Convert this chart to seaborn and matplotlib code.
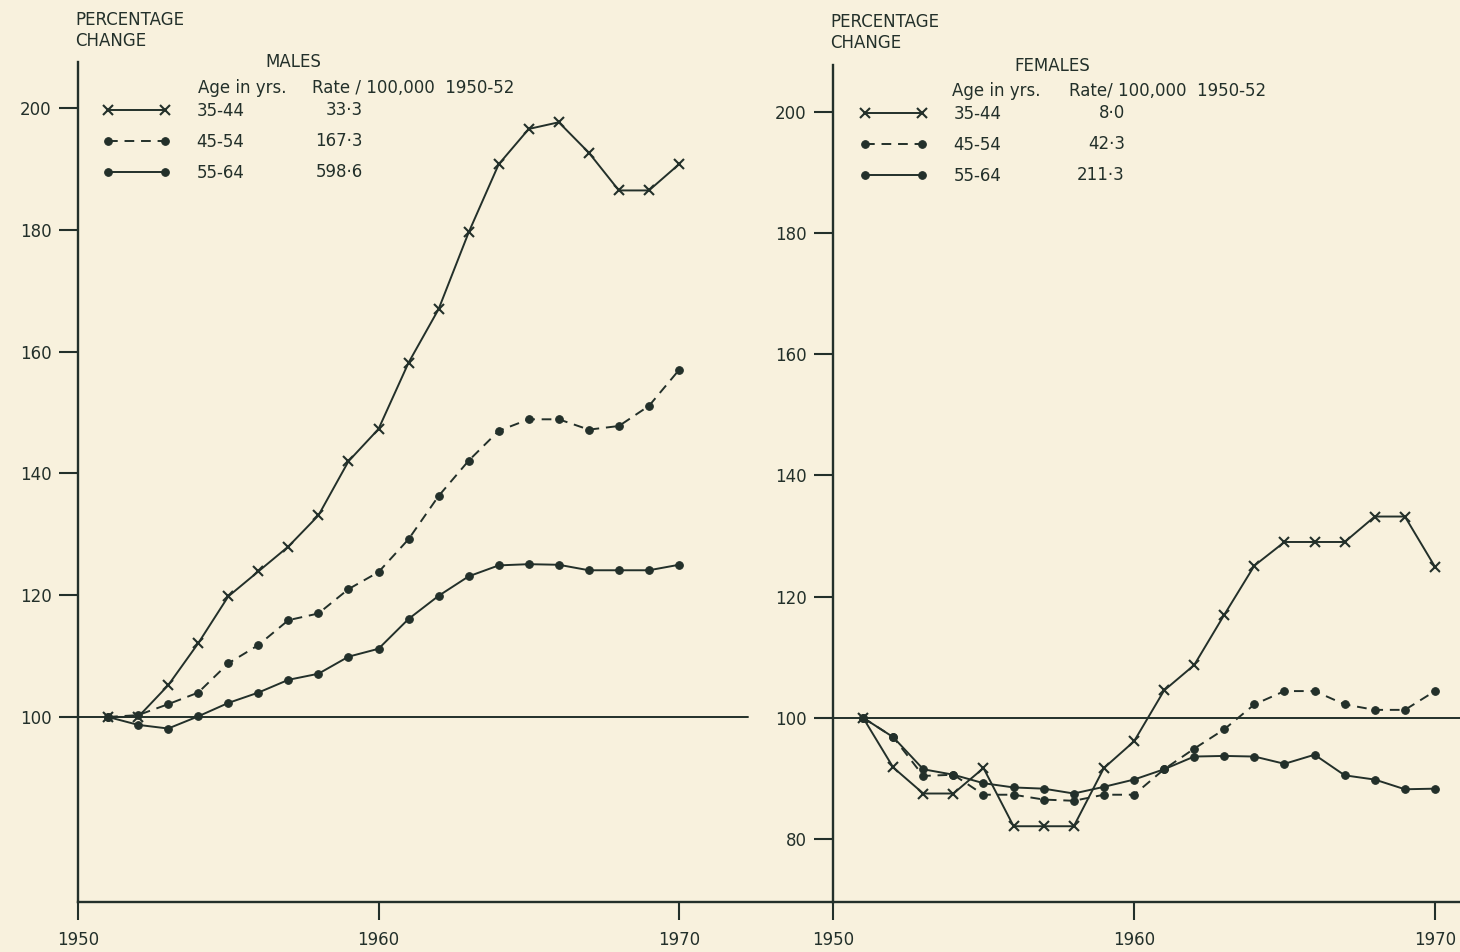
# import the libraries
import pandas as pd
import seaborn as sns
import matplotlib.pyplot as plt

# the data (percentage of 1951 level)
years = list(range(1951, 1971))
age_groups = ["35-44", "45-54", "55-64"]

male_35_44 = [100, 100, 105.2, 112.1, 119.8, 123.9, 128.0, 133.1, 142.0, 147.3,
              158.2, 167.0, 179.6, 190.8, 196.6, 197.7, 192.7, 186.5, 186.5, 190.8]
male_45_54 = [100, 100.3, 102.1, 104.0, 108.8, 111.8, 115.9, 117.0, 121.0, 123.8,
              129.2, 136.3, 142.1, 147.0, 148.9, 148.9, 147.2, 147.8, 151.1, 157.0]
male_55_64 = [100, 98.7, 98.1, 100.1, 102.3, 104.0, 106.1, 107.1, 109.9, 111.2,
              116.1, 119.9, 123.1, 124.9, 125.1, 125.0, 124.1, 124.1, 124.1, 125.0]

female_35_44 = [100, 91.8, 87.5, 87.5, 91.7, 82.1, 82.1, 82.1, 91.7, 96.1,
                104.5, 108.7, 117.0, 125.1, 129.0, 129.0, 129.0, 133.2, 133.2, 124.9]
female_45_54 = [100, 96.8, 90.4, 90.6, 87.3, 87.3, 86.5, 86.3, 87.3, 87.3,
                91.5, 94.9, 98.1, 102.2, 104.4, 104.4, 102.2, 101.3, 101.3, 104.4]
female_55_64 = [100, 96.8, 91.5, 90.6, 89.2, 88.5, 88.3, 87.5, 88.6, 89.8,
                91.5, 93.6, 93.7, 93.6, 92.4, 93.9, 90.5, 89.8, 88.2, 88.3]

male_rates = ["33·3", "167·3", "598·6"]
female_rates = ["8·0", "42·3", "211·3"]

x_ticks = [1950, 1960, 1970]
male_y_ticks = [100, 120, 140, 160, 180, 200]
female_y_ticks = [80, 100, 120, 140, 160, 180, 200]

# colours and styles
paper = "#F8F1DD"
ink = "#23302a"
styles = {
    "35-44": dict(marker="x", markersize=7, linestyle="-", markeredgewidth=1.5),
    "45-54": dict(marker="o", markersize=5.5, linestyle=(0, (5, 3.5))),
    "55-64": dict(marker="o", markersize=5.5, linestyle="-"),
}

sns.set_theme(style="white")
plt.rcParams["font.family"] = ["DejaVu Sans"]
plt.rcParams["text.color"] = ink
plt.rcParams["axes.edgecolor"] = ink
plt.rcParams["xtick.color"] = ink
plt.rcParams["ytick.color"] = ink

W, H = 1460, 952
fig = plt.figure(figsize=(W / 100, H / 100), dpi=100, facecolor=paper)


def px(x, y):
    # pixel position -> figure fraction
    return x / W, 1 - y / H


def long_frame(series):
    rows = []
    for age, vals in zip(age_groups, series):
        for yr, v in zip(years, vals):
            rows.append({"year": yr, "pct": v, "age": age})
    return pd.DataFrame(rows)


def draw_panel(rect, xlim, ylim, yticks, series, line_end):
    ax = fig.add_axes(rect)
    ax.set_facecolor(paper)
    df = long_frame(series)
    for age in age_groups:
        sns.lineplot(data=df[df["age"] == age], x="year", y="pct", ax=ax,
                     color=ink, linewidth=1.4, markeredgecolor=ink,
                     legend=False, **styles[age])
    handles = list(ax.get_lines())
    ax.axhline(100, xmin=0, xmax=line_end, color=ink, linewidth=1.4)
    ax.set_xlim(*xlim)
    ax.set_ylim(*ylim)
    ax.set_xticks(x_ticks)
    ax.set_yticks(yticks)
    ax.set_xlabel("")
    ax.set_ylabel("")
    ax.tick_params(axis="y", direction="out", length=14, width=1.5, pad=5, labelsize=12)
    ax.tick_params(axis="x", direction="out", length=13, width=1.5, pad=8, labelsize=12)
    ax.tick_params(left=True, bottom=True)
    for s in ["top", "right"]:
        ax.spines[s].set_visible(False)
    for s in ["left", "bottom"]:
        ax.spines[s].set_linewidth(1.7)
        ax.spines[s].set_color(ink)
    ax.grid(False)
    return ax, handles


# males panel (left axes runs up to the females axis so the base line is continuous)
ax_m, h_m = draw_panel([78 / W, 50 / H, 755 / W, 840 / H],
                       (1950, 1950 + 755 / 30.05), (69.6, 207.6), male_y_ticks,
                       [male_35_44, male_45_54, male_55_64], 670 / 755)
# females panel
ax_f, h_f = draw_panel([833 / W, 50 / H, 627 / W, 837 / H],
                       (1950, 1950 + 627 / 30.1), (69.6, 207.7), female_y_ticks,
                       [female_35_44, female_45_54, female_55_64], 1.0)


# legends and headings
def key(handles, x, y):
    leg = fig.legend(handles, age_groups, loc="upper left", bbox_to_anchor=px(x, y),
                     frameon=False, numpoints=2, handlelength=4.0, handletextpad=1.6,
                     labelspacing=0.78, fontsize=12, borderpad=0, borderaxespad=0)
    for t in leg.get_texts():
        t.set_color(ink)


key(h_m, 103, 102)
key(h_f, 860, 105)

fs = 12
fig.text(*px(75, 11), "PERCENTAGE\nCHANGE", fontsize=fs, va="top", ha="left", linespacing=1.2)
fig.text(*px(830, 13), "PERCENTAGE\nCHANGE", fontsize=fs, va="top", ha="left", linespacing=1.2)

fig.text(*px(293, 62), "MALES", fontsize=fs, ha="center", va="center")
fig.text(*px(198, 88), "Age in yrs.", fontsize=fs, ha="left", va="center")
fig.text(*px(312, 88), "Rate / 100,000  1950-52", fontsize=fs, ha="left", va="center")
for i, r in enumerate(male_rates):
    fig.text(*px(363, 110 + 31 * i), r, fontsize=fs, ha="right", va="center")

fig.text(*px(1052, 66), "FEMALES", fontsize=fs, ha="center", va="center")
fig.text(*px(952, 91), "Age in yrs.", fontsize=fs, ha="left", va="center")
fig.text(*px(1069, 91), "Rate/ 100,000  1950-52", fontsize=fs, ha="left", va="center")
for i, r in enumerate(female_rates):
    fig.text(*px(1125, 113 + 31 * i), r, fontsize=fs, ha="right", va="center")

fig.savefig("out.png", dpi=100, facecolor=paper)
